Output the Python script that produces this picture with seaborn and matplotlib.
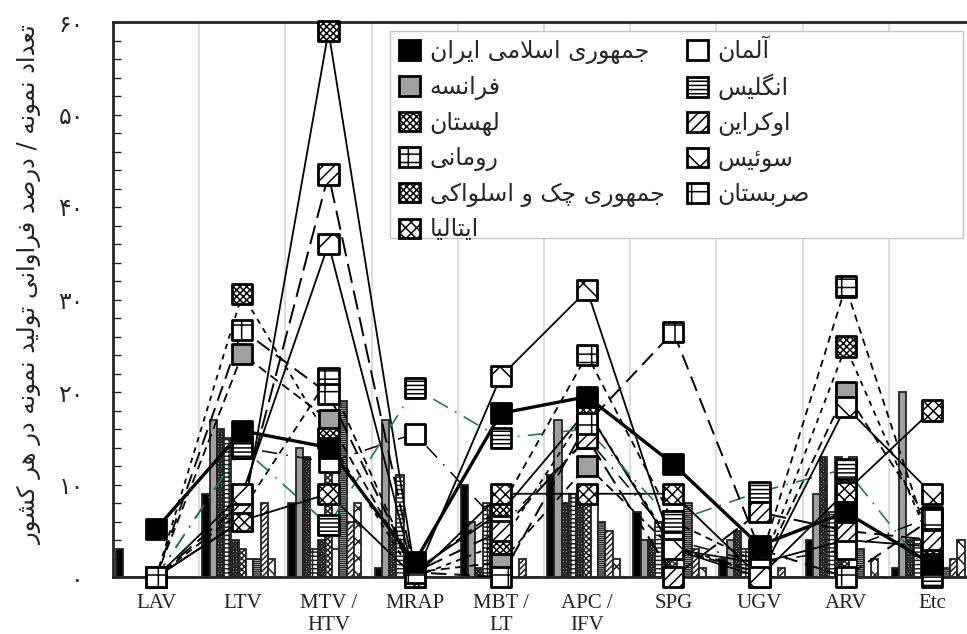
import numpy as np
import pandas as pd
import matplotlib.pyplot as plt
from matplotlib.patches import Patch, Rectangle
from matplotlib.ticker import MultipleLocator
import seaborn as sns

categories = ['LAV', 'LTV', 'MTV /\nHTV', 'MRAP', 'MBT /\nLT', 'APC /\nIFV', 'SPG', 'UGV', 'ARV', 'Etc']
countries = ['جمهوری اسلامی ایران', 'فرانسه', 'لهستان', 'رومانی', 'جمهوری چک و اسلواکی', 'ایتالیا',
             'آلمان', 'انگلیس', 'اوکراین', 'سوئیس', 'صربستان']
y_title = 'تعداد نمونه / درصد فراوانی تولید نمونه در هر کشور'
y_tick_labels = ['۰', '۱۰', '۲۰', '۳۰', '۴۰', '۵۰', '۶۰']

# percent lines, one list per country
iran_line = [5.2, 15.8, 14, 1.6, 17.7, 19.5, 12.2, 3.4, 7, 1.4]
france_line = [0, 24.1, 17, 0.5, 1.6, 12, 3, 0.5, 20, 5.5]
poland_line = [0, 30.6, 15, 0, 3.6, 18, 3.3, 0.5, 24.9, 3.5]
romania_line = [0, 7.2, 21.5, 0.5, 7.5, 24, 6, 1.5, 31.4, 3]
czech_line = [0, 6.1, 59, 0.7, 7, 18, 3, 1.5, 4, 3.3]
italy_line = [0, 6.1, 9, 0, 9, 9, 9, 0, 9.2, 18]
germany_line = [0, 14, 12.4, 15.5, 5.5, 15, 4, 1.5, 3, 6.5]
england_line = [0, 14, 5.6, 20.4, 15, 16, 6, 9.2, 11.7, 0]
ukraine_line = [0, 8, 43.5, 0.5, 5, 15, 0, 7, 5, 4]
swiss_line = [0, 9, 36, 0, 21.7, 31, 3, 0, 18.4, 9]
serbia_line = [0, 26.7, 19.8, 0.5, 0, 16.6, 26.5, 3, 0, 6.3]

# sample counts, one list per category (same order as countries)
lav_bars = [3, 0, 0, 0, 0, 0, 0, 0, 0, 0, 0]
ltv_bars = [9, 17, 16, 15, 4, 3, 2, 2, 8, 2, 0]
mtv_bars = [8, 14, 13, 3, 4, 18, 3, 19, 6, 8, 0]
mrap_bars = [1, 17, 5, 11, 1, 1, 0, 0, 0, 0, 0]
mbt_bars = [10, 6, 1, 8, 7, 8, 7, 0, 2, 0, 0]
apc_bars = [11, 17, 8, 9, 9, 9, 10, 6, 5, 2, 0]
spg_bars = [7, 4, 4, 6, 3, 3, 1, 8, 3, 1, 0]
ugv_bars = [2, 4, 5, 3, 1, 1, 0, 0, 1, 0, 0]
arv_bars = [4, 9, 13, 7, 13, 4, 13, 3, 0, 2, 0]
etc_bars = [1, 20, 4, 4, 3, 3, 3, 1, 2, 4, 0]

line_values = [iran_line, france_line, poland_line, romania_line, czech_line, italy_line,
               germany_line, england_line, ukraine_line, swiss_line, serbia_line]
bar_values = [lav_bars, ltv_bars, mtv_bars, mrap_bars, mbt_bars, apc_bars, spg_bars, ugv_bars, arv_bars, etc_bars]

faces = ['black', '#a0a0a0', 'white', 'white', 'white', 'white', 'white', 'white', 'white', 'white', 'white']
hatches = [None, None, 'XXXXX', '-+', 'xxxxx', 'xxx', None, '----', '///', 'x', '-|']
line_colors = ['black'] * 7 + ['#1f7a4d'] + ['black'] * 3
line_widths = [2.4, 1.3, 1.3, 1.3, 1.3, 1.3, 1.1, 1.2, 1.4, 1.3, 1.4]
line_styles = ['-', (0, (5, 3)), (0, (3, 3)), (0, (4, 3)), '-', '-',
               (0, (10, 6, 1, 6)), (0, (10, 5, 1, 5)), (0, (10, 4)), '-', (0, (8, 4))]

# (isolated, final, initial, medial)
forms = {
    'ا': (0xFE8D, 0xFE8E), 'آ': (0xFE81, 0xFE82), 'د': (0xFEA9, 0xFEAA), 'ر': (0xFEAD, 0xFEAE),
    'ز': (0xFEAF, 0xFEB0), 'و': (0xFEED, 0xFEEE),
    'ب': (0xFE8F, 0xFE90, 0xFE91, 0xFE92), 'ت': (0xFE95, 0xFE96, 0xFE97, 0xFE98),
    'ج': (0xFE9D, 0xFE9E, 0xFE9F, 0xFEA0), 'چ': (0xFB7A, 0xFB7B, 0xFB7C, 0xFB7D),
    'س': (0xFEB1, 0xFEB2, 0xFEB3, 0xFEB4), 'ش': (0xFEB5, 0xFEB6, 0xFEB7, 0xFEB8),
    'ص': (0xFEB9, 0xFEBA, 0xFEBB, 0xFEBC),
    'ع': (0xFEC9, 0xFECA, 0xFECB, 0xFECC), 'ف': (0xFED1, 0xFED2, 0xFED3, 0xFED4),
    'ک': (0xFB8E, 0xFB8F, 0xFB90, 0xFB91), 'گ': (0xFB92, 0xFB93, 0xFB94, 0xFB95),
    'ل': (0xFEDD, 0xFEDE, 0xFEDF, 0xFEE0), 'م': (0xFEE1, 0xFEE2, 0xFEE3, 0xFEE4),
    'ن': (0xFEE5, 0xFEE6, 0xFEE7, 0xFEE8), 'ه': (0xFEE9, 0xFEEA, 0xFEEB, 0xFEEC),
    'ی': (0xFBFC, 0xFBFD, 0xFBFE, 0xFBFF), 'ئ': (0xFE89, 0xFE8A, 0xFE8B, 0xFE8C),
}


def farsi(text):
    # matplotlib does no arabic shaping, so pick the joined forms and reverse for RTL
    out = []
    prev_joins = False
    i = 0
    while i < len(text):
        ch = text[i]
        if ch == 'ل' and text[i + 1:i + 2] == 'ا':
            out.append(chr(0xFEFC if prev_joins else 0xFEFB))
            prev_joins = False
            i += 2
            continue
        if ch not in forms:
            out.append(ch)
            prev_joins = False
            i += 1
            continue
        f = forms[ch]
        next_ok = text[i + 1:i + 2] in forms
        if len(f) == 2:
            out.append(chr(f[1] if prev_joins else f[0]))
            prev_joins = False
        else:
            if prev_joins:
                out.append(chr(f[3] if next_ok else f[1]))
            else:
                out.append(chr(f[2] if next_ok else f[0]))
            prev_joins = next_ok
        i += 1
    return ''.join(out)[::-1]


sns.set_style('ticks')
plt.rcParams['font.family'] = ['DejaVu Sans']
plt.rcParams['hatch.linewidth'] = 1.1

fig = plt.figure(figsize=(9.67, 6.34), dpi=100)
ax = fig.add_axes([113 / 967, 57 / 634, 862 / 967, 555 / 634])

bars_df = pd.DataFrame(bar_values, index=categories, columns=countries)
bars_df = bars_df.reset_index(names='cat').melt(id_vars='cat', var_name='country', value_name='n')
sns.barplot(data=bars_df, x='cat', y='n', hue='country', order=categories, hue_order=countries,
            palette=dict(zip(countries, faces)), width=0.93, gap=0, edgecolor='#222222', linewidth=1.3,
            legend=False, ax=ax, zorder=2)
for cont, h in zip(ax.containers, hatches):
    for bar in cont:
        bar.set_hatch(h * 2 if h else None)

xs = np.arange(len(categories))
for n, (vals, col, lw, ls) in enumerate(zip(line_values, line_colors, line_widths, line_styles)):
    sns.lineplot(x=xs, y=vals, ax=ax, color=col, linewidth=lw, linestyle=ls, errorbar=None, sort=False,
                 zorder=3.5 if n == 0 else 3)
for n, (vals, face, h) in enumerate(zip(line_values, faces, hatches)):
    # iran sits on top of the other markers
    sns.scatterplot(x=xs, y=vals, ax=ax, marker='s', s=215, color=face, edgecolor='black', linewidth=2,
                    hatch=h, clip_on=False, zorder=4.5 if n == 0 else 4, legend=False)

ax.set_xlim(-0.5, 9.5)
ax.set_ylim(0, 60)
ax.set_xticks(xs)
ax.set_xticklabels(categories, family='Liberation Serif', fontsize=15, color='#222222', linespacing=1.25)
ax.set_xticks(xs[:-1] + 0.5, minor=True)
ax.grid(axis='x', which='minor', color='#dddddd', linewidth=1.4, zorder=0)
ax.set_axisbelow(True)
ax.tick_params(axis='x', which='both', length=0, pad=12)
ax.yaxis.set_major_locator(MultipleLocator(10))
ax.yaxis.set_minor_locator(MultipleLocator(2))
ax.set_yticks(np.arange(0, 61, 10))
ax.set_yticklabels(y_tick_labels, fontsize=17)
ax.tick_params(axis='y', which='both', direction='in', length=6, width=1, pad=21)
ax.set_ylabel('')
ax.set_xlabel('')
fig.text(30 / 967, 1 - 285 / 634, farsi(y_title), rotation=90, va='center', ha='center', fontsize=17.5, color='#222222')

ax.spines['right'].set_visible(False)
ax.spines['left'].set_linewidth(2)
ax.spines['top'].set_linewidth(2)
ax.spines['bottom'].set_linewidth(2)

# legend box is wider than its entries, so the frame is its own patch
ax.add_patch(Rectangle((390 / 967, 1 - 238 / 634), 573 / 967, 207 / 634, transform=fig.transFigure, facecolor='white',
                       edgecolor='#c4c4c4', linewidth=1, zorder=5))
handles = [Patch(facecolor=f, edgecolor='black', hatch=h, linewidth=2) for f, h in zip(faces, hatches)]
leg = ax.legend(handles, [farsi(c) for c in countries], ncol=2, loc='upper left',
                bbox_to_anchor=(274 / 862, 1 - 3 / 555), borderaxespad=0, fontsize=17, handlelength=0.9,
                handleheight=0.9, handletextpad=0.4, columnspacing=0.95, labelspacing=0.45, borderpad=0.5,
                frameon=False)
leg.set_zorder(6)

fig.savefig('out.png', dpi=100)
